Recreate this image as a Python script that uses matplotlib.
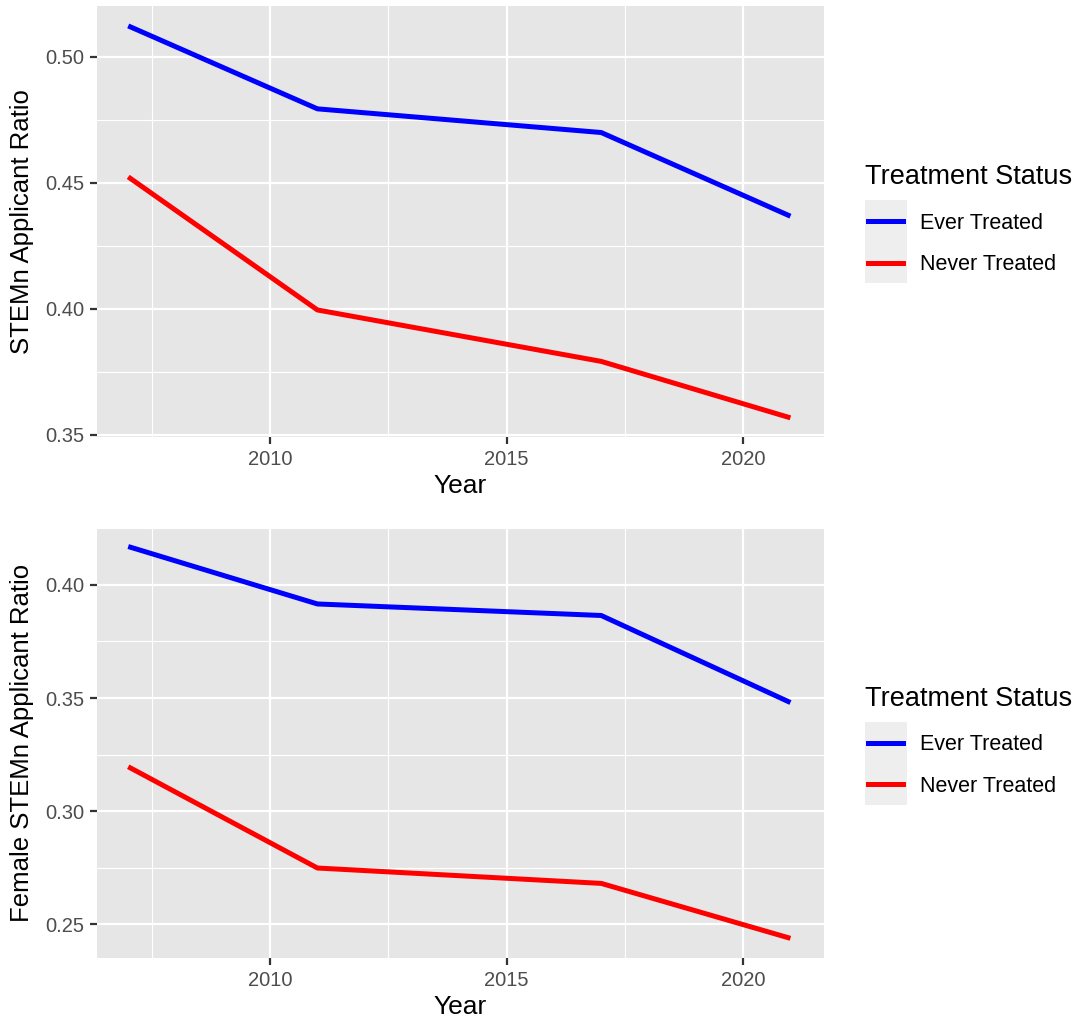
import matplotlib
matplotlib.use("Agg")
import matplotlib.pyplot as plt
from matplotlib.lines import Line2D
from matplotlib.patches import Rectangle

years = [2007, 2011, 2017, 2021]
stem_ever = [0.5123, 0.4794, 0.4700, 0.4368]
stem_never = [0.4524, 0.3996, 0.3792, 0.3568]
female_ever = [0.4170, 0.3916, 0.3865, 0.3480]
female_never = [0.3196, 0.2748, 0.2680, 0.2437]
series_labels = ["Ever Treated", "Never Treated"]
series_colors = ["#0000FF", "#FF0000"]
legend_title = "Treatment Status"
x_ticks = [2010, 2015, 2020]

plt.rcParams['font.family'] = ['Liberation Sans', 'DejaVu Sans']

W, H = 1079, 1023
fig = plt.figure(figsize=(W / 100, H / 100), dpi=100)

def fx(px):
    return px / W

def fy(py):
    return 1 - py / H

panels = [
    dict(top=6, bottom=437, ylim=(0.3492, 0.5202), yticks=[0.35, 0.40, 0.45, 0.50],
         ylabel="STEMn Applicant Ratio", data=[stem_ever, stem_never]),
    dict(top=528, bottom=958, ylim=(0.2350, 0.4252), yticks=[0.25, 0.30, 0.35, 0.40],
         ylabel="Female STEMn Applicant Ratio", data=[female_ever, female_never]),
]

left, right = 97, 824
for p in panels:
    ax = fig.add_axes([fx(left), fy(p['bottom']), fx(right - left), (p['bottom'] - p['top']) / H])
    ax.set_facecolor("#E6E6E6")
    for s in ax.spines.values():
        s.set_visible(False)
    ax.set_xticks(x_ticks)
    ax.set_xticks([2007.5, 2012.5, 2017.5], minor=True)
    yt = p['yticks']
    ax.set_yticks(yt)
    ax.set_yticks([(a + b) / 2 for a, b in zip(yt[:-1], yt[1:])] + [yt[-1] + 0.025, yt[0] - 0.025], minor=True)
    ax.set_yticklabels([f"{v:.2f}" for v in yt])
    ax.set_xlim(2006.34, 2021.71)
    ax.set_ylim(*p['ylim'])
    ax.grid(which='major', color='white', linewidth=1.6)
    ax.grid(which='minor', color='white', linewidth=0.8)
    ax.set_axisbelow(True)
    ax.tick_params(which='major', length=5, width=1.6, color='#333333', labelsize=14.5,
                   labelcolor='#4D4D4D', pad=4)
    ax.tick_params(which='minor', length=0)
    for vals, lab, col in zip(p['data'], series_labels, series_colors):
        ax.plot(years, vals, color=col, linewidth=3.6, solid_capstyle='butt', label=lab)
    ax.set_xlabel("Year", fontsize=19, labelpad=4, color='black')
    ax.set_ylabel(p['ylabel'], fontsize=18.5, labelpad=8, color='black')

    # legend
    mid = (p['top'] + p['bottom']) / 2
    off = mid - 221.5
    fig.text(fx(865), fy(174 + off), legend_title, fontsize=19.5, va='center_baseline', ha='left')
    fig.patches.append(Rectangle((fx(865), fy(283 + off)), fx(42), 83 / H,
                                 transform=fig.transFigure, facecolor='#EEEEEE', edgecolor='none'))
    for i, (lab, col) in enumerate(zip(series_labels, series_colors)):
        yy = 221 + 41.5 * i + off
        fig.lines.append(Line2D([fx(868), fx(903)], [fy(yy), fy(yy)], transform=fig.transFigure,
                                color=col, linewidth=3.6))
        fig.text(fx(920), fy(yy), lab, fontsize=15.5, va='center_baseline', ha='left', color='black')

fig.savefig("out.png", dpi=100, facecolor='white')
